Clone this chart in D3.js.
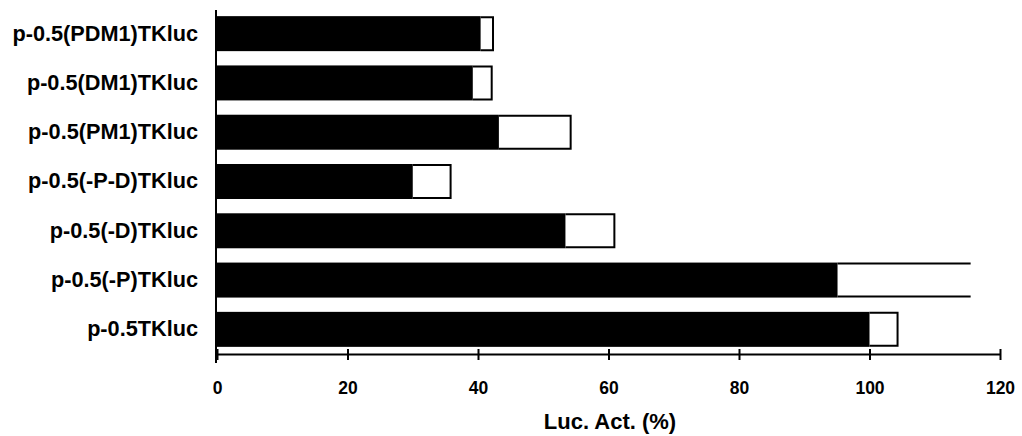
<!DOCTYPE html>
<html>
<head>
<meta charset="utf-8">
<script src="https://cdn.jsdelivr.net/npm/d3@7"></script>
<style>
  body { margin: 0; background: #fff; }
  text { font-family: "Liberation Sans", Arial, Helvetica, sans-serif; font-weight: bold; }
</style>
</head>
<body>
<div id="chart"></div>
<script>
// constructs, top to bottom
const constructs = ["p-0.5(PDM1)TKluc", "p-0.5(DM1)TKluc", "p-0.5(PM1)TKluc", "p-0.5(-P-D)TKluc",
                    "p-0.5(-D)TKluc", "p-0.5(-P)TKluc", "p-0.5TKluc"];
// mean luciferase activity (black part) and the error extension (open part), in %
const meanAct = [40.4, 39.2, 43.2, 30.0, 53.4, 95.1, 100];
const errAct = [1.9, 2.9, 11.0, 5.8, 7.5, 20.4, 4.3];
const xTicks = [0, 20, 40, 60, 80, 100, 120];
const xTitle = "Luc. Act. (%)";
// this box is drawn without its right edge in the original
const openEnded = ["p-0.5(-P)TKluc"];

const width = 1022, height = 436;

const svg = d3.select("#chart").append("svg")
    .attr("width", width)
    .attr("height", height)
    .attr("viewBox", [0, 0, width, height]);

const x = d3.scaleLinear().domain([0, 120]).range([217, 1000]);
const y = d3.scaleBand().domain(constructs).range([9, 354])
    .paddingInner(0.29).paddingOuter(0.145);

const rows = constructs.map((c, i) => ({ name: c, mean: meanAct[i], top: meanAct[i] + errAct[i] }));

// black bars
svg.append("g")
  .selectAll("rect")
  .data(rows)
  .join("rect")
    .attr("x", x(0))
    .attr("y", d => y(d.name))
    .attr("width", d => x(d.mean) - x(0))
    .attr("height", y.bandwidth())
    .attr("fill", "#000");

// open boxes on top
const boxes = svg.append("g")
    .attr("fill", "none")
    .attr("stroke", "#000")
    .attr("stroke-width", 2);

boxes.selectAll("path")
  .data(rows)
  .join("path")
    .attr("d", d => {
      const x0 = x(d.mean), x1 = x(d.top), y0 = y(d.name) + 1, y1 = y(d.name) + y.bandwidth() - 1;
      if (openEnded.includes(d.name)) return `M${x0},${y0}H${x1}M${x0},${y1}H${x1}`;
      return `M${x0},${y0}H${x1}V${y1}H${x0}`;
    });

// x axis
const xAxis = svg.append("g")
    .attr("transform", `translate(0,354)`)
    .call(d3.axisBottom(x).tickValues(xTicks).tickSize(6).tickSizeOuter(0).tickPadding(22));
xAxis.select(".domain").attr("stroke-width", 2.2);
xAxis.selectAll(".tick line").attr("y1", -5).attr("y2", 6).attr("stroke-width", 2);
xAxis.selectAll(".tick text")
    .attr("font-size", 17.5)
    .attr("font-family", "'Liberation Sans', Arial, sans-serif")
    .attr("font-weight", "bold")
    .attr("fill", "#000");

// y axis: labels plus a plain vertical line
const yAxis = svg.append("g")
    .attr("transform", `translate(216,0)`)
    .call(d3.axisLeft(y).tickSize(0).tickPadding(18));
yAxis.select(".domain").remove();
yAxis.selectAll(".tick text")
    .attr("font-size", 21.7)
    .attr("font-family", "'Liberation Sans', Arial, sans-serif")
    .attr("font-weight", "bold")
    .attr("fill", "#000");

svg.append("line")
    .attr("x1", 216).attr("x2", 216)
    .attr("y1", 10).attr("y2", 363)
    .attr("stroke", "#000")
    .attr("stroke-width", 2);

svg.append("text")
    .attr("x", 610)
    .attr("y", 429)
    .attr("text-anchor", "middle")
    .attr("font-size", 22)
    .text(xTitle);
</script>
</body>
</html>
